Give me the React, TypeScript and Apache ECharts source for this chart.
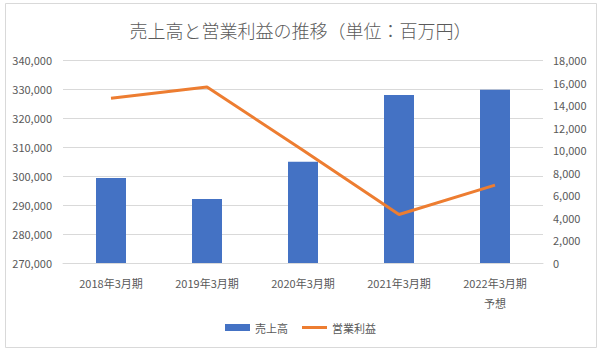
import React, { useEffect, useRef } from "react";
import * as echarts from "echarts";

const categories = ["2018年3月期", "2019年3月期", "2020年3月期", "2021年3月期", "2022年3月期\n予想"];
const salesValues = [299300, 292100, 304900, 327900, 329700];
const profitValues = [14600, 15600, 10000, 4300, 6900];
const seriesNames = ["売上高", "営業利益"];
const titleText = "売上高と営業利益の推移（単位：百万円）";

const FONT = "'Noto Sans CJK JP', 'Noto Sans', sans-serif";
const TEXT = "#595959";

export default function App() {
  const ref = useRef<HTMLDivElement>(null);
  useEffect(() => {
    document.body.style.margin = "0";
    const chart = echarts.init(ref.current!, null, { renderer: "svg" });
    chart.setOption({
      animation: false,
      backgroundColor: "#ffffff",
      textStyle: { fontFamily: FONT },
      title: {
        text: titleText,
        left: "center",
        top: 16,
        textStyle: { fontFamily: FONT, fontSize: 18, fontWeight: 300, color: TEXT },
      },
      graphic: [
        {
          type: "rect",
          shape: { x: 5.5, y: 3.5, width: 591, height: 344 },
          style: { fill: "none", stroke: "#d9d9d9", lineWidth: 1 },
          silent: true,
        },
      ],
      grid: { left: 63, right: 58, top: 60, bottom: 95, containLabel: false },
      legend: {
        bottom: 20,
        left: "center",
        itemWidth: 25,
        itemHeight: 7,
        itemGap: 14,
        textStyle: { fontFamily: FONT, fontSize: 11, color: TEXT },
        data: [
          { name: seriesNames[0], icon: "rect" },
          { name: seriesNames[1], icon: "path://M0,0L25,0L25,3L0,3Z" },
        ],
      },
      xAxis: {
        type: "category",
        data: categories,
        axisLine: { lineStyle: { color: "#d9d9d9" } },
        axisTick: { show: false },
        axisLabel: { color: TEXT, fontSize: 11, fontFamily: FONT, margin: 10, lineHeight: 20 },
      },
      yAxis: [
        {
          type: "value",
          min: 270000,
          max: 340000,
          interval: 10000,
          axisLine: { show: false },
          axisTick: { show: false },
          splitLine: { lineStyle: { color: "#d9d9d9" } },
          axisLabel: {
            color: TEXT,
            fontSize: 11,
            fontFamily: FONT,
            margin: 11,
            formatter: (v: number) => v.toLocaleString("en-US"),
          },
        },
        {
          type: "value",
          min: 0,
          max: 18000,
          interval: 2000,
          axisLine: { show: false },
          axisTick: { show: false },
          splitLine: { show: false },
          axisLabel: {
            color: TEXT,
            fontSize: 11,
            fontFamily: FONT,
            margin: 10,
            formatter: (v: number) => v.toLocaleString("en-US"),
          },
        },
      ],
      series: [
        {
          name: seriesNames[0],
          type: "bar",
          data: salesValues,
          barWidth: 30,
          itemStyle: { color: "#4472C4" },
          yAxisIndex: 0,
        },
        {
          name: seriesNames[1],
          type: "line",
          data: profitValues,
          yAxisIndex: 1,
          symbol: "none",
          lineStyle: { color: "#ED7D31", width: 3 },
          itemStyle: { color: "#ED7D31" },
        },
      ],
    });
    return () => chart.dispose();
  }, []);
  return <div ref={ref} style={{ width: 601, height: 358 }} />;
}
